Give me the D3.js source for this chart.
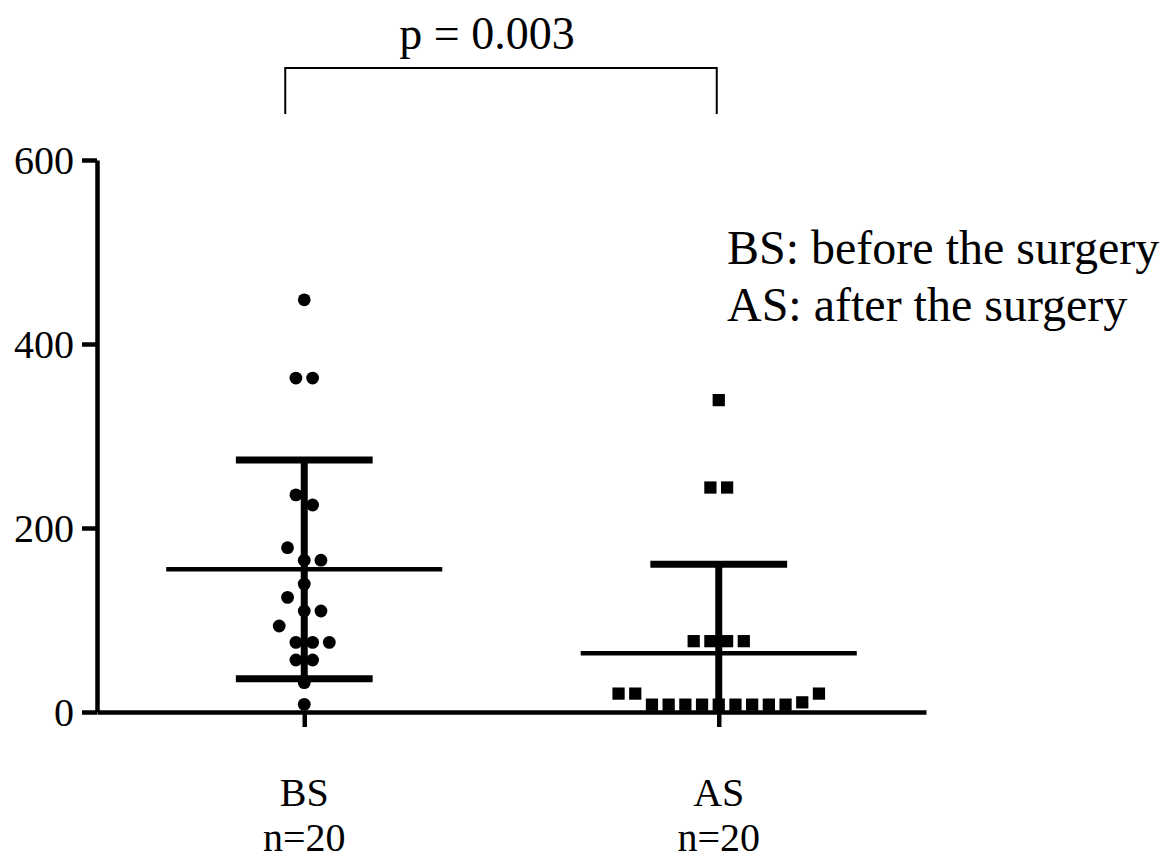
<!DOCTYPE html>
<html>
<head>
<meta charset="utf-8">
<script src="https://cdn.jsdelivr.net/npm/d3@7"></script>
<style>
  body { margin: 0; background: #fff; }
  text { font-family: "Liberation Serif", "Times New Roman", serif; fill: #000; }
</style>
</head>
<body>
<svg id="drawing_region"></svg>
<script>
// groups and their sample sizes
const categories = ["BS", "AS"];
const sampleSizes = [20, 20];

// values (order inside each row = order left to right)
const bsValues = [448, 363, 363, 236, 225, 178.6, 165, 165, 139, 124.6,
                  109.8, 109.8, 93.5, 75.7, 75.7, 75.7, 56.5, 56.5, 31.9, 8.3];
const asValues = [339, 244, 244, 77, 77, 77, 77, 20, 20, 8,
                  8, 8, 8, 8, 8, 8, 8, 8, 10.5, 20];

const yTicks = [0, 200, 400, 600];
const pLabel = "p = 0.003";
const legendLines = ["BS: before the surgery", "AS: after the surgery"];

const groups = [bsValues, asValues];

const config = {
    width: 1169,
    height: 860,
    left: 97,
    right: 926,
    top: 160,
    bottom: 712,
    slot: 16.7
};

const svg = d3.select('#drawing_region')
    .attr('width', config.width)
    .attr('height', config.height);

const xscale = d3.scalePoint()
    .domain(categories)
    .range([config.left, config.right])
    .padding(0.5);

const yscale = d3.scaleLinear()
    .domain([0, 600])
    .range([config.bottom, config.top]);

const step = xscale.step();

// Prism-like scatter: points within one symbol height share a row, row is centred
function layout(values) {
    const order = d3.range(values.length).sort((a, b) => values[a] - values[b] || a - b);
    const rows = [];
    let current = null;
    order.forEach(i => {
        if (current && yscale(values[current.start]) - yscale(values[i]) < config.slot) {
            current.members.push(i);
        } else {
            current = { start: i, members: [i] };
            rows.push(current);
        }
    });
    const offsets = new Array(values.length);
    rows.forEach(r => {
        r.members.sort((a, b) => a - b);
        const n = r.members.length;
        r.members.forEach((idx, k) => { offsets[idx] = (k - (n - 1) / 2) * config.slot; });
    });
    return values.map((v, i) => ({ value: v, dx: offsets[i] }));
}

// axes
const yAxis = d3.axisLeft(yscale)
    .tickValues(yTicks)
    .tickSize(15)
    .tickSizeOuter(0)
    .tickPadding(8);

const gy = svg.append('g')
    .attr('transform', `translate(${config.left},0)`)
    .call(yAxis);
gy.selectAll('path, line')
    .attr('stroke', '#000')
    .attr('stroke-width', 4.5);
gy.selectAll('text')
    .style('font-size', '40px')
    .attr('dy', '0.34em');

const xAxis = d3.axisBottom(xscale)
    .tickSize(15)
    .tickSizeOuter(0)
    .tickFormat(() => '');

const gx = svg.append('g')
    .attr('transform', `translate(0,${config.bottom})`)
    .call(xAxis);
gx.selectAll('path, line')
    .attr('stroke', '#000')
    .attr('stroke-width', 4.5);

// category labels, two lines
const labels = svg.append('g');
categories.forEach((c, i) => {
    labels.append('text')
        .attr('x', xscale(c))
        .attr('y', 806)
        .attr('text-anchor', 'middle')
        .style('font-size', '40px')
        .text(c);
    labels.append('text')
        .attr('x', xscale(c))
        .attr('y', 851)
        .attr('text-anchor', 'middle')
        .style('font-size', '40px')
        .text(`n=${sampleSizes[i]}`);
});

// points
const square = d3.symbol().type(d3.symbolSquare).size(150);

groups.forEach((values, gi) => {
    const cx = xscale(categories[gi]);
    const pts = layout(values);
    const g = svg.append('g');
    if (gi === 0) {
        g.selectAll('circle')
            .data(pts)
            .join('circle')
            .attr('cx', d => cx + d.dx)
            .attr('cy', d => yscale(d.value))
            .attr('r', 6.4)
            .attr('fill', '#000');
    } else {
        g.selectAll('path')
            .data(pts)
            .join('path')
            .attr('d', square)
            .attr('transform', d => `translate(${cx + d.dx},${yscale(d.value)})`)
            .attr('fill', '#000');
    }

    // mean and SD
    const mean = d3.mean(values);
    const sd = d3.deviation(values);
    const hi = mean + sd;
    const lo = Math.max(0, mean - sd);
    const eb = svg.append('g').attr('stroke', '#000');
    eb.append('line')
        .attr('x1', cx).attr('x2', cx)
        .attr('y1', yscale(hi)).attr('y2', yscale(lo))
        .attr('stroke-width', 7);
    eb.append('line')
        .attr('x1', cx - step * 0.165).attr('x2', cx + step * 0.165)
        .attr('y1', yscale(hi)).attr('y2', yscale(hi))
        .attr('stroke-width', 7);
    if (mean - sd > 0) {
        eb.append('line')
            .attr('x1', cx - step * 0.165).attr('x2', cx + step * 0.165)
            .attr('y1', yscale(lo)).attr('y2', yscale(lo))
            .attr('stroke-width', 7);
    }
    eb.append('line')
        .attr('x1', cx - step * 0.333).attr('x2', cx + step * 0.333)
        .attr('y1', yscale(mean)).attr('y2', yscale(mean))
        .attr('stroke-width', 4.5);
});

// significance bracket
const bx1 = xscale(categories[0]) - 19;
const bx2 = xscale(categories[1]) - 2;
svg.append('path')
    .attr('d', `M${bx1},114V68H${bx2}V114`)
    .attr('fill', 'none')
    .attr('stroke', '#000')
    .attr('stroke-width', 2);

svg.append('text')
    .attr('x', 487)
    .attr('y', 49)
    .attr('text-anchor', 'middle')
    .style('font-size', '46px')
    .text(pLabel);

// legend note
svg.append('g')
    .selectAll('text')
    .data(legendLines)
    .join('text')
    .attr('x', 727)
    .attr('y', (d, i) => 264 + i * 57)
    .style('font-size', '48px')
    .text(d => d);
</script>
</body>
</html>
